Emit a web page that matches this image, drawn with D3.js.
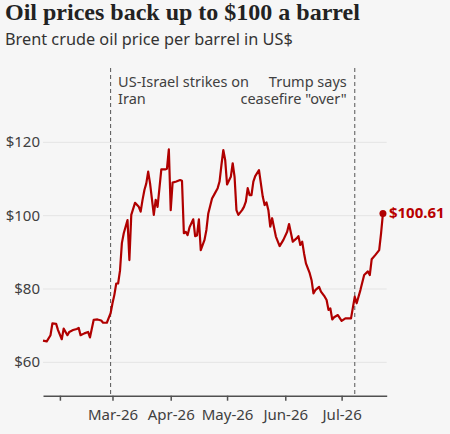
<!DOCTYPE html>
<html>
<head>
<meta charset="utf-8">
<script src="https://cdn.jsdelivr.net/npm/d3@7"></script>
<style>
  body { margin:0; background:#f6f6f6; }
  svg { display:block; background:#f6f6f6; }
  .title { font-family:"Liberation Serif", serif; font-weight:bold; font-size:24px; fill:#222; }
  .subtitle { font-family:"Noto Sans", sans-serif; font-size:16.3px; fill:#333; }
  .note { font-family:"Noto Sans", sans-serif; font-size:14.5px; fill:#404040; }
  .axis text { font-family:"Noto Sans", sans-serif; font-size:15px; fill:#404040; }
  .endlabel { font-family:"Noto Sans", sans-serif; font-weight:bold; font-size:15px; fill:#b80000; }
</style>
</head>
<body>
<svg width="450" height="434"></svg>
<script>
// Brent price
var dates = ["2026-01-23","2026-01-25","2026-01-27","2026-01-28","2026-01-30","2026-01-31",
  "2026-02-02","2026-02-03","2026-02-05","2026-02-06","2026-02-08","2026-02-10","2026-02-11",
  "2026-02-12","2026-02-14","2026-02-16","2026-02-17","2026-02-19","2026-02-21","2026-02-23",
  "2026-02-24","2026-02-26","2026-02-28","2026-03-01","2026-03-02","2026-03-03","2026-03-04",
  "2026-03-05","2026-03-06","2026-03-07","2026-03-09","2026-03-10","2026-03-11","2026-03-13",
  "2026-03-15","2026-03-16","2026-03-17","2026-03-18","2026-03-19","2026-03-20","2026-03-21",
  "2026-03-23","2026-03-24","2026-03-25","2026-03-27","2026-03-29","2026-03-30","2026-03-31",
  "2026-04-01","2026-04-02","2026-04-04","2026-04-06","2026-04-07","2026-04-08","2026-04-09",
  "2026-04-10","2026-04-11","2026-04-13","2026-04-14","2026-04-15","2026-04-16","2026-04-17",
  "2026-04-19","2026-04-20","2026-04-21","2026-04-23","2026-04-24","2026-04-26","2026-04-27",
  "2026-04-28","2026-04-29","2026-04-30","2026-05-01","2026-05-03","2026-05-04","2026-05-05",
  "2026-05-06","2026-05-07","2026-05-09","2026-05-10","2026-05-11","2026-05-12","2026-05-13",
  "2026-05-14","2026-05-15","2026-05-16","2026-05-18","2026-05-20","2026-05-21","2026-05-22",
  "2026-05-23","2026-05-24","2026-05-25","2026-05-26","2026-05-27","2026-05-29","2026-05-31",
  "2026-06-02","2026-06-03","2026-06-05","2026-06-07","2026-06-08","2026-06-09","2026-06-10",
  "2026-06-11","2026-06-12","2026-06-14","2026-06-15","2026-06-16","2026-06-17","2026-06-19",
  "2026-06-20","2026-06-22","2026-06-23","2026-06-24","2026-06-25","2026-06-26","2026-06-27",
  "2026-06-29","2026-07-01","2026-07-03","2026-07-06","2026-07-08","2026-07-09","2026-07-11",
  "2026-07-13","2026-07-15","2026-07-16","2026-07-17","2026-07-19","2026-07-21","2026-07-22",
  "2026-07-23"];
var prices = [65.9,65.7,67.4,70.6,70.5,68.8,
  66.3,69.2,67.4,68.3,68.8,69.1,69.4,
  67.4,67.9,68.3,66.8,71.6,71.7,71.4,
  70.8,70.8,73.4,76.1,78.4,81.5,81.5,
  85.0,92.5,95.2,98.8,87.9,100.2,103.5,
  102.4,101.1,104.3,107.0,108.8,112.0,108.8,
  100.2,104.3,102.4,112.6,112.6,112.8,118.1,
  101.5,109.0,109.3,109.7,109.5,95.2,95.6,
  94.7,96.8,99.0,94.4,94.6,99.0,90.6,
  93.4,96.1,100.6,104.7,105.6,107.5,109.3,
  113.8,117.9,115.2,108.5,110.6,114.3,110.6,
  101.5,100.2,101.5,102.4,103.8,107.5,105.6,
  105.6,109.3,110.8,112.4,105.2,102.9,103.6,
  101.5,97.0,99.3,96.8,94.3,91.7,93.4,
  95.6,97.7,92.9,93.8,94.4,92.0,92.9,
  89.7,87.0,84.3,82.4,78.8,79.7,80.6,
  79.3,77.9,77.0,74.3,74.7,71.7,72.3,
  72.9,71.3,72.0,72.0,77.9,76.1,79.7,
  83.8,84.8,83.8,88.1,89.3,90.6,95.2,
  100.61];

var yTicks = [60,80,100,120];
var monthTicks = ["2026-02-01","2026-03-01","2026-04-01","2026-05-01","2026-06-01","2026-07-01"];
var eventDates = ["2026-02-28","2026-07-08"];
var eventLabels = [["US-Israel strikes on","Iran"],["Trump says","ceasefire \"over\""]];

var parseDate = d3.timeParse("%Y-%m-%d");
var data = dates.map(function(d,i){ return {date:parseDate(d), price:prices[i]}; });

var svg = d3.select("svg");

var xScale = d3.scaleTime()
    .domain([parseDate("2026-01-23"), parseDate("2026-07-25")])
    .range([43,386.7]);
var yScale = d3.scaleLinear()
    .domain([50.9,140])
    .range([395.7,69]);

// titles
svg.append("text").classed("title",true).attr("x",5).attr("y",20)
    .text("Oil prices back up to $100 a barrel");
svg.append("text").classed("subtitle",true).attr("x",5).attr("y",45)
    .text("Brent crude oil price per barrel in US$");

// gridlines
svg.append("g").selectAll("line")
    .data(yTicks)
    .enter()
    .append("line")
    .attr("x1",43).attr("x2",386.7)
    .attr("y1",function(d){ return yScale(d); })
    .attr("y2",function(d){ return yScale(d); })
    .attr("stroke","#e4e4e4")
    .attr("stroke-width",1);

// y labels
svg.append("g").classed("axis",true).selectAll("text")
    .data(yTicks)
    .enter()
    .append("text")
    .attr("x",40)
    .attr("y",function(d){ return yScale(d)+5; })
    .attr("text-anchor","end")
    .text(function(d){ return "$"+d; });

// x axis
var fmt = d3.timeFormat("%b-%y");
var xAxis = d3.axisBottom(xScale)
    .tickValues(monthTicks.map(parseDate))
    .tickSize(5)
    .tickSizeOuter(0)
    .tickPadding(9)
    .tickFormat(function(d,i){ return i==0 ? "" : fmt(d); });
var gx = svg.append("g")
    .classed("axis",true)
    .attr("transform","translate(0,395.7)")
    .call(xAxis);
gx.select(".domain").attr("stroke","#505050").attr("stroke-width",1.5);
gx.selectAll(".tick line").attr("stroke","#505050").attr("stroke-width",1.5);
gx.selectAll("text").attr("fill","#404040");

// event markers
var ev = svg.append("g").selectAll("g")
    .data(eventDates)
    .enter()
    .append("g");
ev.append("line")
    .attr("x1",function(d){ return xScale(parseDate(d)); })
    .attr("x2",function(d){ return xScale(parseDate(d)); })
    .attr("y1",68)
    .attr("y2",395)
    .attr("stroke","#555")
    .attr("stroke-width",1)
    .attr("stroke-dasharray","4,3");
ev.append("text")
    .classed("note",true)
    .attr("text-anchor",function(d,i){ return i==0 ? "start" : "end"; })
    .attr("x",function(d,i){ return xScale(parseDate(d)) + (i==0 ? 7.5 : -8); })
    .attr("y",87)
    .selectAll("tspan")
    .data(function(d,i){ return eventLabels[i]; })
    .enter()
    .append("tspan")
    .attr("x",function(){ return d3.select(this.parentNode).attr("x"); })
    .attr("dy",function(d,i){ return i==0 ? 0 : 17; })
    .text(function(d){ return d; });

// price line
var lineGenerator = d3.line()
    .x(function(d){ return xScale(d.date); })
    .y(function(d){ return yScale(d.price); });
svg.append("path")
    .datum(data)
    .attr("d",lineGenerator)
    .attr("fill","none")
    .attr("stroke","#b00000")
    .attr("stroke-width",2.2)
    .attr("stroke-linejoin","round");

var last = data[data.length-1];
svg.append("circle")
    .attr("cx",xScale(last.date))
    .attr("cy",yScale(last.price))
    .attr("r",3.5)
    .attr("fill","#b00000");
svg.append("text")
    .classed("endlabel",true)
    .attr("x",xScale(last.date)+6)
    .attr("y",yScale(last.price)+5)
    .text("$"+d3.format(".2f")(last.price));
</script>
</body>
</html>
